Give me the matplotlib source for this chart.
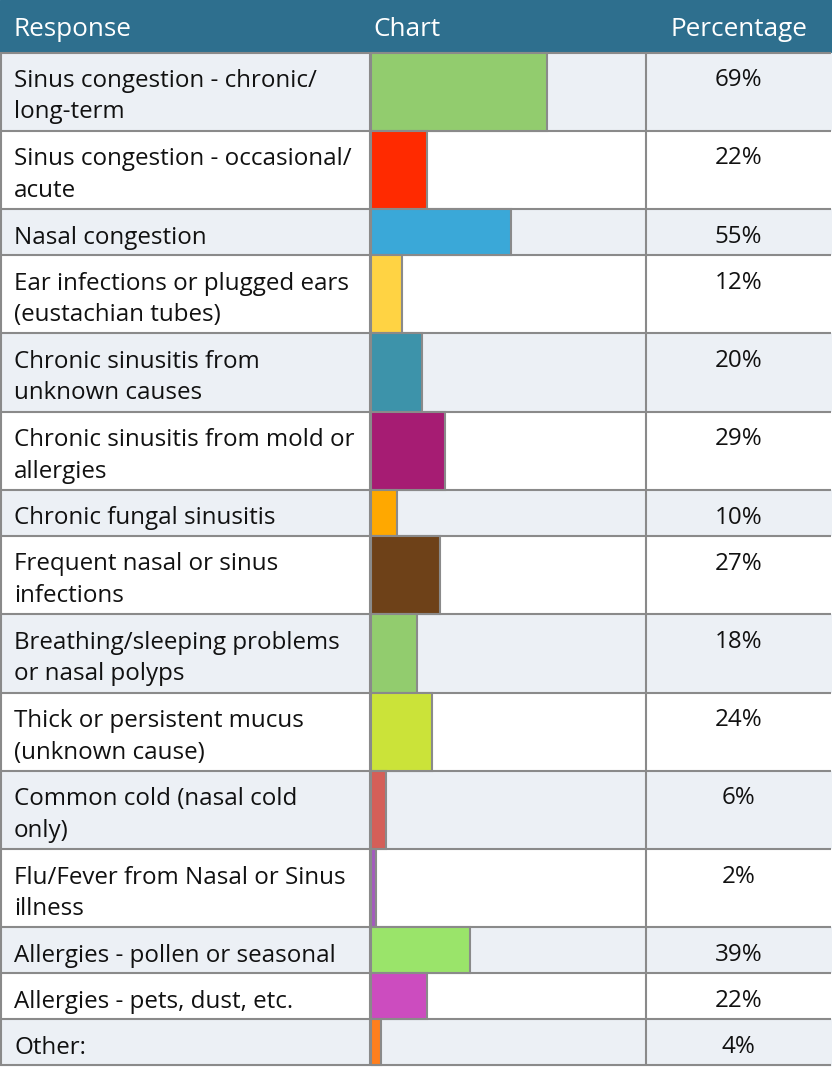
import matplotlib
matplotlib.use("Agg")
import matplotlib.pyplot as plt
from matplotlib.patches import Rectangle

# ---------------- data ----------------
responses = [
    "Sinus congestion - chronic/\nlong-term",
    "Sinus congestion - occasional/\nacute",
    "Nasal congestion",
    "Ear infections or plugged ears\n(eustachian tubes)",
    "Chronic sinusitis from\nunknown causes",
    "Chronic sinusitis from mold or\nallergies",
    "Chronic fungal sinusitis",
    "Frequent nasal or sinus\ninfections",
    "Breathing/sleeping problems\nor nasal polyps",
    "Thick or persistent mucus\n(unknown cause)",
    "Common cold (nasal cold\nonly)",
    "Flu/Fever from Nasal or Sinus\nillness",
    "Allergies - pollen or seasonal",
    "Allergies - pets, dust, etc.",
    "Other:",
]
percentages = [69, 22, 55, 12, 20, 29, 10, 27, 18, 24, 6, 2, 39, 22, 4]
bar_colors = ["#92CC6E", "#FF2A00", "#3AA8D8", "#FFD343", "#3D93AA",
              "#A61C73", "#FFA800", "#6E4118", "#92CC6E", "#CBE339",
              "#D45F58", "#A45BBE", "#9AE46A", "#CC4CBF", "#FF7F1E"]
headers = ["Response", "Chart", "Percentage"]

# ---------------- layout (pixels) ----------------
W, H = 832, 1071
header_h = 52.5
two_line_h = 78.3
one_line_h = 46.0
col_x = [0, 370, 646, 831]
px_per_pct = 2.55

HEADER_COLOR = "#2E6F8E"
ALT_COLOR = "#ECF0F5"
LINE_COLOR = "#8A8A8A"
FONT = ["Open Sans", "DejaVu Sans"]
fs_body = 17.4
fs_head = 18.8
LW = 1.5

row_h = [two_line_h if "\n" in r else one_line_h for r in responses]
row_top = []
y = header_h
for h in row_h:
    row_top.append(y)
    y += h
table_bottom = y

fig = plt.figure(figsize=(W / 100, H / 100), dpi=100)
fig.patch.set_facecolor("white")
ax = fig.add_axes([0, 0, 1, 1])
ax.set_xlim(0, W)
ax.set_ylim(H, 0)
ax.axis("off")

# header
ax.add_patch(Rectangle((0, 0), col_x[-1] + 1, header_h, color=HEADER_COLOR, zorder=1))
hb = 36
ax.text(14, hb, headers[0], color="white", fontsize=fs_head,
        family=FONT, va="baseline", ha="left", zorder=3)
ax.text(col_x[1] + 3, hb, headers[1], color="white", fontsize=fs_head,
        family=FONT, va="baseline", ha="left", zorder=3)
ax.text((col_x[2] + col_x[3]) / 2, hb, headers[2], color="white",
        fontsize=fs_head, family=FONT, va="baseline", ha="center", zorder=3)

# rows
for i, (lab, pct, top, h) in enumerate(zip(responses, percentages, row_top, row_h)):
    bg = ALT_COLOR if i % 2 == 0 else "white"
    ax.add_patch(Rectangle((0, top), col_x[-1], h, color=bg, zorder=1))
    lines = lab.split("\n")
    for k, ln in enumerate(lines):
        ax.text(14, top + 34.5 + 31.5 * k, ln, fontsize=fs_body, family=FONT,
                color="#111111", va="baseline", ha="left", zorder=3)
    ax.text((col_x[2] + col_x[3]) / 2, top + 33.5, f"{pct}%", fontsize=fs_body,
            family=FONT, color="#111111", va="baseline", ha="center", zorder=3)

# grid lines
for top in row_top + [table_bottom]:
    ax.plot([0, col_x[-1]], [top, top], color=LINE_COLOR, lw=LW, zorder=2,
            solid_capstyle="butt")
for x in col_x[:3]:
    ax.plot([x + (1 if x == 0 else 0)] * 2, [header_h, table_bottom], color=LINE_COLOR,
            lw=LW, zorder=2, solid_capstyle="butt")

# chart column axes with bars
x0 = col_x[1] + 1
x1 = col_x[2]
ax2 = fig.add_axes([x0 / W, 0, (x1 - x0) / W, 1])
ax2.set_xlim(0, (x1 - x0) / px_per_pct)
ax2.set_ylim(H, 0)
ax2.axis("off")
ax2.patch.set_alpha(0)
centers = [t + h / 2 for t, h in zip(row_top, row_h)]
ax2.barh(centers, percentages, height=row_h, left=0, color=bar_colors,
         edgecolor=LINE_COLOR, linewidth=LW)

fig.savefig("out.png", dpi=100)
